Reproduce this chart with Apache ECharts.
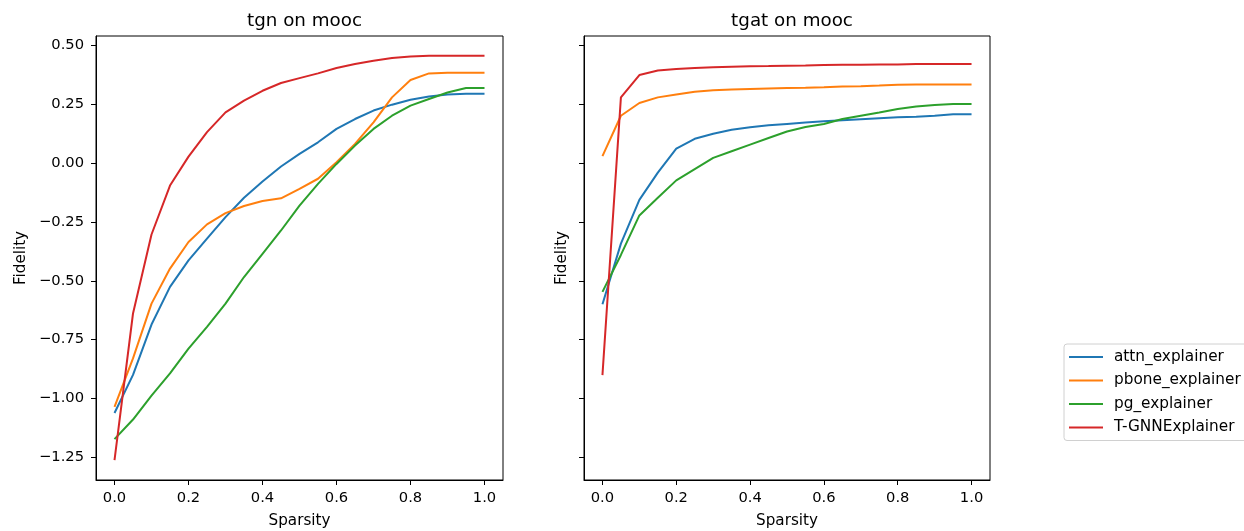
<!DOCTYPE html>
<html>
<head>
<meta charset="utf-8">
<script src="https://cdn.jsdelivr.net/npm/echarts@6/dist/echarts.min.js"></script>
<style>html,body{margin:0;padding:0;background:#fff}#c{width:1244px;height:531px}</style>
</head>
<body>
<div id="c"></div>
<script>
const sparsity = [0,0.05,0.1,0.15,0.2,0.25,0.3,0.35,0.4,0.45,0.5,0.55,0.6,0.65,0.7,0.75,0.8,0.85,0.9,0.95,1.0];
const xTicks = [0,0.2,0.4,0.6,0.8,1.0];
const yTicks = [-1.25,-1.0,-0.75,-0.5,-0.25,0,0.25,0.5];
const seriesNames = ['attn_explainer','pbone_explainer','pg_explainer','T-GNNExplainer'];
const titles = ['tgn on mooc','tgat on mooc'];

// tgn on mooc
const tgnAttn  = [-1.062,-0.900,-0.686,-0.526,-0.413,-0.321,-0.229,-0.147,-0.078,-0.014,0.040,0.089,0.146,0.188,0.224,0.249,0.270,0.284,0.292,0.295,0.295];
const tgnPbone = [-1.036,-0.830,-0.597,-0.448,-0.335,-0.260,-0.212,-0.182,-0.161,-0.149,-0.109,-0.066,0.004,0.082,0.174,0.280,0.354,0.382,0.385,0.385,0.385];
const tgnPg    = [-1.173,-1.090,-0.988,-0.894,-0.788,-0.696,-0.597,-0.484,-0.385,-0.286,-0.180,-0.088,-0.003,0.075,0.146,0.202,0.245,0.273,0.301,0.320,0.320];
const tgnTgnn  = [-1.262,-0.639,-0.303,-0.095,0.028,0.132,0.216,0.266,0.308,0.341,0.362,0.382,0.405,0.422,0.436,0.447,0.454,0.457,0.457,0.457,0.457];

// tgat on mooc
const tgatAttn  = [-0.600,-0.342,-0.156,-0.040,0.062,0.104,0.125,0.142,0.153,0.161,0.167,0.173,0.178,0.183,0.187,0.191,0.195,0.198,0.202,0.208,0.208];
const tgatPbone = [0.030,0.202,0.256,0.280,0.292,0.304,0.310,0.313,0.316,0.318,0.320,0.321,0.323,0.326,0.327,0.330,0.334,0.335,0.335,0.335,0.335];
const tgatPg    = [-0.547,-0.390,-0.222,-0.147,-0.073,-0.025,0.023,0.051,0.079,0.107,0.135,0.154,0.167,0.188,0.202,0.216,0.231,0.241,0.248,0.252,0.252];
const tgatTgnn  = [-0.901,0.280,0.375,0.394,0.401,0.405,0.408,0.410,0.412,0.413,0.415,0.416,0.418,0.419,0.419,0.420,0.420,0.422,0.422,0.422,0.422];

const colors = ['#1f77b4','#ff7f0e','#2ca02c','#d62728'];
const FONT = 'DejaVu Sans';
const panels = [[tgnAttn,tgnPbone,tgnPg,tgnTgnn],[tgatAttn,tgatPbone,tgatPg,tgatTgnn]];

const grids = [
  {left:96, top:36, width:407, height:444},
  {left:584, top:36, width:406, height:444}
];

function fmtY(v){ const s = Math.abs(v).toFixed(2); return v < 0 ? '\u2212' + s : s; }
function fmtX(v){ return v.toFixed(1); }

const xAxes = grids.map((g,i)=>({
  type:'value', gridIndex:i, min:-0.05, max:1.05,
  name:'Sparsity', nameLocation:'middle', nameGap:34,
  nameTextStyle:{fontFamily:FONT,fontSize:15.2,color:'#000'},
  axisLine:{show:true,onZero:false,lineStyle:{color:'#000',width:1}},
  axisTick:{show:true,inside:false,length:5,customValues:xTicks,lineStyle:{color:'#000'}},
  axisLabel:{show:true,customValues:xTicks,formatter:fmtX,margin:11,fontFamily:FONT,fontSize:14.7,color:'#000'},
  splitLine:{show:false}
}));
const yAxes = grids.map((g,i)=>({
  type:'value', gridIndex:i, min:-1.347, max:0.541,
  name:'Fidelity', nameLocation:'middle', nameGap: i===0 ? 67 : 14, nameRotate:90,
  nameTextStyle:{fontFamily:FONT,fontSize:15.2,color:'#000'},
  axisLine:{show:true,onZero:false,lineStyle:{color:'#000',width:1}},
  axisTick:{show:true,inside:false,length:5,customValues:yTicks,lineStyle:{color:'#000'}},
  axisLabel:{show:i===0,customValues:yTicks,formatter:fmtY,margin:12,fontFamily:FONT,fontSize:14.7,color:'#000'},
  splitLine:{show:false}
}));

const series = [];
panels.forEach((arrs,p)=>{
  arrs.forEach((arr,k)=>{
    series.push({
      type:'line', name:seriesNames[k], xAxisIndex:p, yAxisIndex:p,
      data: sparsity.map((x,j)=>[x,arr[j]]),
      showSymbol:false, symbol:'none', animation:false,
      lineStyle:{color:colors[k],width:2}, itemStyle:{color:colors[k]}
    });
  });
});

const chart = echarts.init(document.getElementById('c'));
chart.setOption({
  backgroundColor:'#fff',
  animation:false,
  title: titles.map((t,i)=>({
    text:t, left: grids[i].left + grids[i].width/2, top:7, textAlign:'center',
    textStyle:{fontFamily:FONT,fontSize:18.3,fontWeight:'normal',color:'#000'}
  })),
  grid: grids.map(g=>Object.assign({show:true,borderColor:'#000',borderWidth:1,backgroundColor:'transparent',containLabel:false,outerBoundsMode:'none'},g)),
  xAxis:xAxes, yAxis:yAxes,
  legend:{
    data:seriesNames, orient:'vertical', left:1064, top:344,
    icon:'rect', itemWidth:34, itemHeight:2, itemGap:7.5,
    padding:[5,12,5,5],
    borderColor:'#d0d0d0', borderWidth:1, borderRadius:3,
    textStyle:{fontFamily:FONT,fontSize:15.3,color:'#000',lineHeight:16,padding:[0,0,0,6]},
    selectedMode:false
  },
  series:series
});
</script>
</body>
</html>
